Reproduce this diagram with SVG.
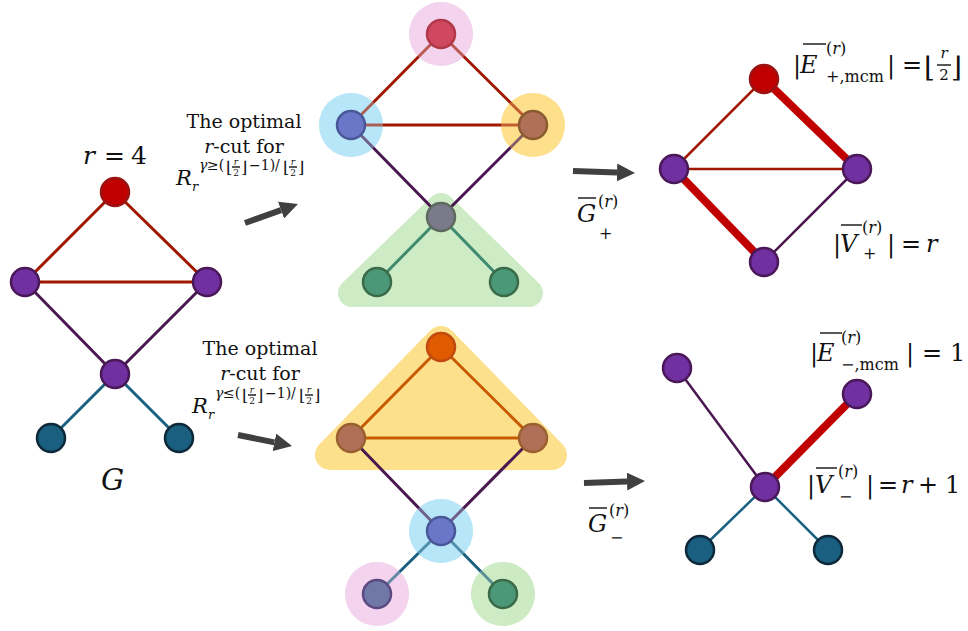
<svg xmlns="http://www.w3.org/2000/svg" width="968" height="631" viewBox="0 0 968 631">
<defs>
<style>
.t{font-family:'DejaVu Serif','Liberation Serif',serif;fill:#111}
.i{font-style:italic}
.e{stroke-width:3;fill:none;stroke-linecap:round}
.er{stroke:#a01800}
.ep{stroke:#4a1850}
.et{stroke:#1a6080}
.eo{stroke:#c85a00}
.eg{stroke:#3f8a70}
.thick{stroke:#c00000;stroke-width:8;stroke-linecap:butt}
.n{stroke-width:2.5}
.red{fill:#c00000;stroke:#9a1414}
.pur{fill:#7030a0;stroke:#4a1858}
.teal{fill:#1a5f80;stroke:#0d2838}
.arr{stroke:#404040;stroke-width:6;fill:none}
.ov{stroke:#111;stroke-width:1.4}
.gr{fill:#cdebc4;stroke:#cdebc4;stroke-width:28;stroke-linejoin:round}
.ye{fill:#fde08c;stroke:#fde08c;stroke-width:30;stroke-linejoin:round}
.pk{fill:#f3d3ee}
.bl{fill:#b8e6f9}
.or{fill:#fee08c}
.gc{fill:#cdebc4}
.tint{opacity:0.35}
</style>
<marker id="ah" markerWidth="3" markerHeight="3" refX="0" refY="1.5" orient="auto" markerUnits="strokeWidth">
<path d="M0,0 L3,1.5 L0,3 z" fill="#404040"/>
</marker>
</defs>
<rect width="968" height="631" fill="#ffffff"/>

<g id="regions">
<polygon class="gr" points="352,293 441,207 529,293"/>
<polygon class="ye" points="330,455 441,341 552,455"/>
<circle class="pk" cx="441" cy="34" r="32"/>
<circle class="bl" cx="351" cy="125" r="32"/>
<circle class="or" cx="533" cy="125" r="32"/>
<circle class="bl" cx="441" cy="531" r="32"/>
<circle class="pk" cx="377" cy="594" r="32"/>
<circle class="gc" cx="503" cy="594" r="32"/>
</g>

<g id="connectors">
<line class="e er" x1="115" y1="192" x2="25" y2="282"/>
<line class="e er" x1="115" y1="192" x2="207" y2="282"/>
<line class="e er" x1="25" y1="282" x2="207" y2="282"/>
<line class="e ep" x1="25" y1="282" x2="115" y2="374"/>
<line class="e ep" x1="207" y1="282" x2="115" y2="374"/>
<line class="e et" x1="115" y1="374" x2="51" y2="438"/>
<line class="e et" x1="115" y1="374" x2="179" y2="438"/>
<line class="e er" x1="441" y1="34" x2="351" y2="125"/>
<line class="e er" x1="441" y1="34" x2="533" y2="125"/>
<line class="e er" x1="351" y1="125" x2="533" y2="125"/>
<line class="e ep" x1="351" y1="125" x2="441" y2="217"/>
<line class="e ep" x1="533" y1="125" x2="441" y2="217"/>
<line class="e eg" x1="441" y1="217" x2="377" y2="282"/>
<line class="e eg" x1="441" y1="217" x2="504" y2="282"/>
<line class="e eo" x1="441" y1="347" x2="351" y2="438"/>
<line class="e eo" x1="441" y1="347" x2="533" y2="438"/>
<line class="e eo" x1="351" y1="438" x2="533" y2="438"/>
<line class="e ep" x1="351" y1="438" x2="441" y2="531"/>
<line class="e ep" x1="533" y1="438" x2="441" y2="531"/>
<line class="e et" x1="441" y1="531" x2="377" y2="594"/>
<line class="e et" x1="441" y1="531" x2="503" y2="594"/>
<line class="e er" x1="764" y1="79" x2="674" y2="169" style="stroke-width:2.5"/>
<line class="e er" x1="674" y1="169" x2="857" y2="169" style="stroke-width:2.5"/>
<line class="e ep" x1="857" y1="169" x2="764" y2="262" style="stroke-width:2.5"/>
<line class="thick" x1="764" y1="79" x2="857" y2="169"/>
<line class="thick" x1="674" y1="169" x2="764" y2="262"/>
<line class="e ep" x1="677" y1="368" x2="765" y2="487" style="stroke-width:2.5"/>
<line class="thick" x1="857" y1="394" x2="765" y2="487"/>
<line class="e et" x1="765" y1="487" x2="700" y2="550" style="stroke-width:2.5"/>
<line class="e et" x1="765" y1="487" x2="828" y2="550" style="stroke-width:2.5"/>
<line class="arr" x1="245" y1="223" x2="281" y2="210.1" marker-end="url(#ah)"/>
<line class="arr" x1="238" y1="435" x2="274.4" y2="442.4" marker-end="url(#ah)"/>
<line class="arr" x1="573" y1="171" x2="617" y2="172.4" marker-end="url(#ah)"/>
<line class="arr" x1="584" y1="483" x2="627" y2="481.6" marker-end="url(#ah)"/>
</g>

<g id="region-tint" class="tint">
<circle class="pk" cx="441" cy="34" r="32"/>
<circle class="bl" cx="351" cy="125" r="32"/>
<circle class="or" cx="533" cy="125" r="32"/>
<circle class="bl" cx="441" cy="531" r="32"/>
<circle class="pk" cx="377" cy="594" r="32"/>
<circle class="gc" cx="503" cy="594" r="32"/>
</g>

<g id="G-top"><circle class="n red" cx="115" cy="192" r="14"/></g>
<g id="G-left"><circle class="n pur" cx="25" cy="282" r="14"/></g>
<g id="G-right"><circle class="n pur" cx="207" cy="282" r="14"/></g>
<g id="G-center"><circle class="n pur" cx="115" cy="374" r="14"/></g>
<g id="G-leaf1"><circle class="n teal" cx="51" cy="438" r="14"/></g>
<g id="G-leaf2"><circle class="n teal" cx="179" cy="438" r="14"/></g>

<g id="MT-top"><circle class="n" cx="441" cy="34" r="14" fill="#d04860" stroke="#b03848"/></g>
<g id="MT-left"><circle class="n" cx="351" cy="125" r="14" fill="#6a76c8" stroke="#4a5898"/></g>
<g id="MT-right"><circle class="n" cx="533" cy="125" r="14" fill="#b07058" stroke="#8a5a30"/></g>
<g id="MT-center"><circle class="n" cx="441" cy="217" r="14" fill="#7a7a8a" stroke="#5e6a5e"/></g>
<g id="MT-leaf1"><circle class="n" cx="377" cy="282" r="14" fill="#4a9878" stroke="#3a6a48"/></g>
<g id="MT-leaf2"><circle class="n" cx="504" cy="282" r="14" fill="#4a9878" stroke="#3a6a48"/></g>

<g id="MB-top"><circle class="n" cx="441" cy="347" r="14" fill="#e05a00" stroke="#c04a10"/></g>
<g id="MB-left"><circle class="n" cx="351" cy="438" r="14" fill="#b07058" stroke="#9a6030"/></g>
<g id="MB-right"><circle class="n" cx="533" cy="438" r="14" fill="#b07058" stroke="#9a6030"/></g>
<g id="MB-center"><circle class="n" cx="441" cy="531" r="14" fill="#6a76c8" stroke="#4a5898"/></g>
<g id="MB-leaf1"><circle class="n" cx="377" cy="594" r="14" fill="#7078a8" stroke="#5a4a80"/></g>
<g id="MB-leaf2"><circle class="n" cx="503" cy="594" r="14" fill="#4a9878" stroke="#3a6a48"/></g>

<g id="RT-top"><circle class="n red" cx="764" cy="79" r="14"/></g>
<g id="RT-left"><circle class="n pur" cx="674" cy="169" r="14"/></g>
<g id="RT-right"><circle class="n pur" cx="857" cy="169" r="14"/></g>
<g id="RT-bottom"><circle class="n pur" cx="764" cy="262" r="14"/></g>

<g id="RB-a"><circle class="n pur" cx="677" cy="368" r="14"/></g>
<g id="RB-b"><circle class="n pur" cx="857" cy="394" r="14"/></g>
<g id="RB-center"><circle class="n pur" cx="765" cy="487" r="14"/></g>
<g id="RB-leaf1"><circle class="n teal" cx="700" cy="550" r="14"/></g>
<g id="RB-leaf2"><circle class="n teal" cx="828" cy="550" r="14"/></g>

<g id="label-r4">
<text x="83" y="164" class="t i" font-size="25">r</text>
<text x="104" y="164" class="t" font-size="25">=</text>
<text x="131" y="164" class="t" font-size="25">4</text>
</g>
<g id="label-G"><text x="101" y="490" class="t i" font-size="29">G</text></g>

<g id="label-top-cut">
<text x="244" y="128" class="t" font-size="19" text-anchor="middle">The optimal</text>
<text x="244" y="153" class="t" font-size="19" text-anchor="middle"><tspan class="i">r</tspan>-cut for</text>
<text x="176" y="185" class="t i" font-size="21">R</text>
<text x="192" y="191" class="t i" font-size="13">r</text>
<text x="199" y="170" class="t i" font-size="14">γ</text>
<text x="207" y="170" class="t" font-size="14">≥(</text>
<text x="226" y="173" class="t" font-size="16">⌊</text>
<text x="236" y="165" class="t i" font-size="9" text-anchor="middle">r</text>
<text x="236" y="176" class="t" font-size="9" text-anchor="middle">2</text>
<line x1="232" y1="167" x2="240" y2="167" class="ov" stroke-width="0.8"/>
<text x="241" y="173" class="t" font-size="16">⌋</text>
<text x="249" y="170" class="t" font-size="14">−1)/</text>
<text x="283" y="173" class="t" font-size="16">⌊</text>
<text x="293" y="165" class="t i" font-size="9" text-anchor="middle">r</text>
<text x="293" y="176" class="t" font-size="9" text-anchor="middle">2</text>
<line x1="289" y1="167" x2="297" y2="167" class="ov" stroke-width="0.8"/>
<text x="298" y="173" class="t" font-size="16">⌋</text>
</g>

<g id="label-bottom-cut">
<text x="260" y="355" class="t" font-size="19" text-anchor="middle">The optimal</text>
<text x="260" y="380" class="t" font-size="19" text-anchor="middle"><tspan class="i">r</tspan>-cut for</text>
<text x="192" y="413" class="t i" font-size="21">R</text>
<text x="208" y="419" class="t i" font-size="13">r</text>
<text x="215" y="398" class="t i" font-size="14">γ</text>
<text x="223" y="398" class="t" font-size="14">≤(</text>
<text x="242" y="401" class="t" font-size="16">⌊</text>
<text x="252" y="393" class="t i" font-size="9" text-anchor="middle">r</text>
<text x="252" y="404" class="t" font-size="9" text-anchor="middle">2</text>
<line x1="248" y1="395" x2="256" y2="395" class="ov" stroke-width="0.8"/>
<text x="257" y="401" class="t" font-size="16">⌋</text>
<text x="265" y="398" class="t" font-size="14">−1)/</text>
<text x="299" y="401" class="t" font-size="16">⌊</text>
<text x="309" y="393" class="t i" font-size="9" text-anchor="middle">r</text>
<text x="309" y="404" class="t" font-size="9" text-anchor="middle">2</text>
<line x1="305" y1="395" x2="313" y2="395" class="ov" stroke-width="0.8"/>
<text x="314" y="401" class="t" font-size="16">⌋</text>
</g>

<g id="label-Gplus">
<line class="ov" x1="578" y1="198" x2="596" y2="198"/>
<text x="577" y="222" class="t i" font-size="24">G</text>
<text x="598" y="207" class="t" font-size="16">(<tspan class="i">r</tspan>)</text>
<text x="599" y="239" class="t" font-size="16">+</text>
</g>
<g id="label-Gminus">
<line class="ov" x1="589" y1="508" x2="607" y2="508"/>
<text x="588" y="532" class="t i" font-size="24">G</text>
<text x="609" y="516" class="t" font-size="16">(<tspan class="i">r</tspan>)</text>
<text x="610" y="543" class="t" font-size="16">−</text>
</g>

<g id="label-Eplus">
<text x="793" y="73" class="t" font-size="24">|</text>
<line class="ov" x1="803" y1="44" x2="826" y2="44"/>
<text x="800" y="73" class="t i" font-size="24">E</text>
<text x="826" y="54" class="t" font-size="16">(<tspan class="i">r</tspan>)</text>
<text x="826" y="82" class="t" font-size="16">+,mcm</text>
<text x="887" y="73" class="t" font-size="24">|</text>
<text x="902" y="73" class="t" font-size="24">=</text>
<text x="924" y="77" class="t" font-size="28">⌊</text>
<text x="944" y="58" class="t i" font-size="15" text-anchor="middle">r</text>
<text x="944" y="80" class="t" font-size="15" text-anchor="middle">2</text>
<line class="ov" x1="937" y1="65" x2="951" y2="65" stroke-width="1"/>
<text x="951" y="77" class="t" font-size="28">⌋</text>
</g>

<g id="label-Vplus">
<text x="833" y="252" class="t" font-size="24">|</text>
<line class="ov" x1="841" y1="225" x2="862" y2="225"/>
<text x="840" y="252" class="t i" font-size="24">V</text>
<text x="862" y="233" class="t" font-size="16">(<tspan class="i">r</tspan>)</text>
<text x="863" y="259" class="t" font-size="16">+</text>
<text x="887" y="252" class="t" font-size="24">|</text>
<text x="901" y="252" class="t" font-size="24">=</text>
<text x="926" y="252" class="t i" font-size="24">r</text>
</g>

<g id="label-Eminus">
<text x="810" y="361" class="t" font-size="24">|</text>
<line class="ov" x1="820" y1="333" x2="842" y2="333"/>
<text x="817" y="361" class="t i" font-size="24">E</text>
<text x="841" y="343" class="t" font-size="16">(<tspan class="i">r</tspan>)</text>
<text x="841" y="370" class="t" font-size="16">−,mcm</text>
<text x="906" y="361" class="t" font-size="24">|</text>
<text x="922" y="361" class="t" font-size="24">=</text>
<text x="950" y="361" class="t" font-size="24">1</text>
</g>

<g id="label-Vminus">
<text x="807" y="493" class="t" font-size="24">|</text>
<line class="ov" x1="816" y1="468" x2="837" y2="468"/>
<text x="815" y="493" class="t i" font-size="24">V</text>
<text x="838" y="477" class="t" font-size="16">(<tspan class="i">r</tspan>)</text>
<text x="839" y="502" class="t" font-size="16">−</text>
<text x="866" y="493" class="t" font-size="24">|</text>
<text x="878" y="493" class="t" font-size="24">=</text>
<text x="901" y="493" class="t i" font-size="24">r</text>
<text x="918" y="493" class="t" font-size="24">+</text>
<text x="945" y="493" class="t" font-size="24">1</text>
</g>
</svg>
